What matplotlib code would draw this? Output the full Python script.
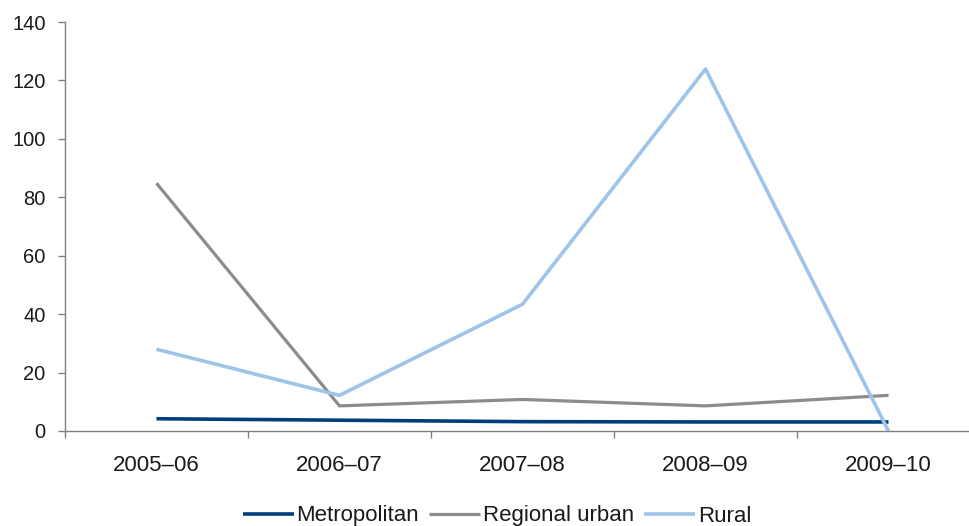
import matplotlib
matplotlib.use("Agg")
import matplotlib.pyplot as plt

plt.rcParams['font.family'] = ['Liberation Sans', 'DejaVu Sans']

years = ["2005–06", "2006–07", "2007–08", "2008–09", "2009–10"]
metropolitan = [4.2, 3.7, 3.2, 3.1, 3.1]
regional_urban = [84.8, 8.6, 10.8, 8.6, 12.2]
rural = [28.0, 12.2, 43.4, 123.9, 0.0]
y_ticks = [0, 20, 40, 60, 80, 100, 120, 140]

W, H = 969, 526
fig = plt.figure(figsize=(W / 100, H / 100), dpi=100)
ax = fig.add_axes([65 / W, 1 - 431 / H, (980 - 65) / W, (431 - 22) / H])

x = list(range(len(years)))
ax.plot(x, metropolitan, color='#003f7d', lw=2.6, label='Metropolitan', solid_capstyle='butt')
ax.plot(x, regional_urban, color='#8c8c8c', lw=2.3, label='Regional urban', solid_capstyle='butt')
ax.plot(x, rural, color='#9ec4ea', lw=2.6, label='Rural', solid_capstyle='butt')

ax.set_xlim(-0.5, len(years) - 0.5)
ax.set_ylim(0, 140)
ax.set_yticks(y_ticks)
ax.set_xticks(x)
ax.set_xticklabels(years)
ax.set_xticks([i - 0.5 for i in range(len(years) + 1)], minor=True)

for side in ('top', 'right'):
    ax.spines[side].set_visible(False)
for side in ('left', 'bottom'):
    ax.spines[side].set_color('#808080')
    ax.spines[side].set_linewidth(1.0)

ax.tick_params(axis='y', direction='out', length=5, width=1.0, color='#808080',
               labelsize=14.5, labelcolor='#1a1a1a', pad=9)
ax.tick_params(axis='x', which='major', length=0, labelsize=16,
               labelcolor='#1a1a1a', pad=17)
ax.tick_params(axis='x', which='minor', direction='out', length=5, width=1.0,
               color='#808080')

fig.legend(loc='center', bbox_to_anchor=(497 / W, 1 - 516 / H), ncol=3,
           frameon=False, fontsize=16, handlelength=2.3, handletextpad=0.12,
           columnspacing=0.45, labelcolor='#1a1a1a')

fig.savefig('out.png', dpi=100)
